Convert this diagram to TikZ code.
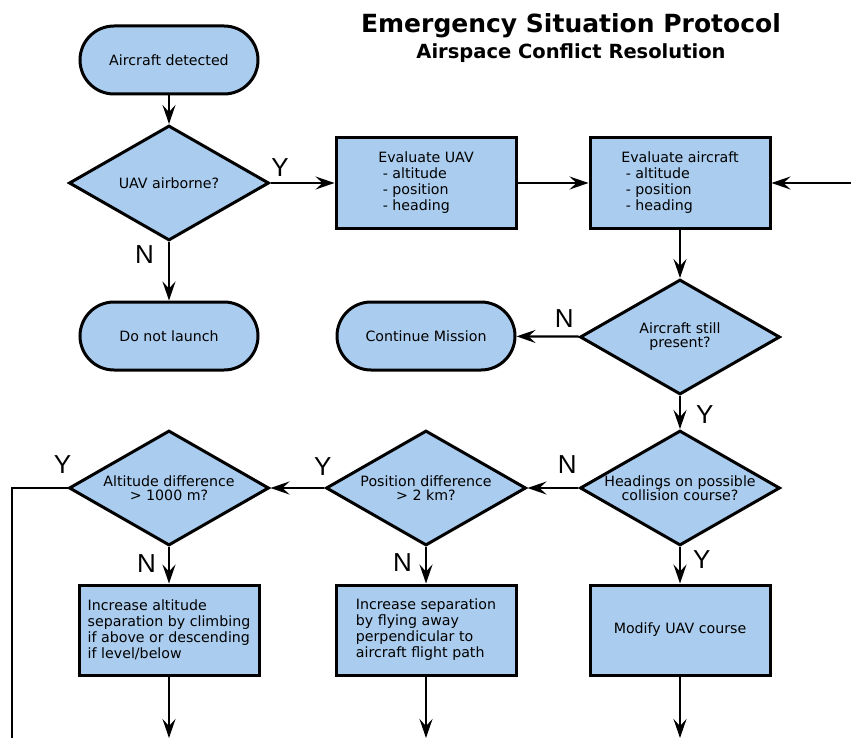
\documentclass[tikz,border=0pt]{standalone}
\usepackage{fontspec}
\setmainfont{DejaVu Sans}
\newfontfamily\ynfont{Liberation Sans}
\usetikzlibrary{shapes.geometric,arrows.meta}
\definecolor{boxblue}{RGB}{170,204,238}

\begin{document}
\begin{tikzpicture}[x=1pt,y=-1pt,
term/.style={
	rectangle,minimum width=178pt,minimum height=68pt,rounded corners=34pt,
	draw=black,line width=3pt,fill=boxblue,
	font=\fontsize{14.2}{16}\selectfont},
proc/.style={
	rectangle,minimum width=180pt,minimum height=90pt,
	draw=black,line width=3pt,fill=boxblue,align=left,
	font=\fontsize{14.2}{16}\selectfont},
dec/.style={
	diamond,aspect=1.73,minimum width=200pt,minimum height=115pt,inner sep=0pt,
	draw=black,line width=3pt,fill=boxblue,align=center,
	font=\fontsize{14.2}{14}\selectfont},
yn/.style={font=\ynfont\fontsize{26}{26}\selectfont,inner sep=1pt},
arr/.style={line width=2.2pt,-{Stealth[length=19pt,width=13pt,inset=7pt]}},
]
\useasboundingbox (0,0) rectangle (851,738);

\node[anchor=base,font=\bfseries\fontsize{25}{25}\selectfont] (title) at (571,33) {Emergency Situation Protocol};
\node[anchor=base,font=\bfseries\fontsize{19.5}{19.5}\selectfont] (subtitle) at (571,59) {Airspace Conflict Resolution};

\node[term] (det) at (169,60) {Aircraft detected};
\node[dec] (air) at (169,183) {UAV airborne?};
\node[proc] (evu) at (426,183) {Evaluate UAV\\\ - altitude\\\ - position\\\ - heading};
\node[proc] (eva) at (680,183) {Evaluate aircraft\\\ - altitude\\\ - position\\\ - heading};
\node[term] (nol) at (169,336) {Do not launch};
\node[term] (cont) at (426,336) {Continue Mission};
\node[dec] (pres) at (680,337) {Aircraft still\\present?};
\node[dec] (head) at (680,488) {Headings on possible\\collision course?};
\node[dec] (posd) at (426,488) {Position difference\\> 2 km?};
\node[dec] (altd) at (169,488) {Altitude difference\\> 1000 m?};
\node[proc] (climb) at (169,630) {Increase altitude\\separation by climbing\\if above or descending\\if level/below};
\node[proc] (perp) at (426,630) {Increase separation\\by flying away\\perpendicular to\\aircraft flight path};
\node[proc] (modc) at (680,630) {Modify UAV course};

\coordinate (back) at (851,183);
\coordinate (lft) at (12,738);
\coordinate (out1) at (169,738);
\coordinate (out2) at (426,738);
\coordinate (out3) at (680,738);

\draw[arr] (det) -- (air);
\draw[arr] (air) -- node[yn,above,pos=0.15,yshift=4pt]{Y} (evu);
\draw[arr] (air) -- node[yn,left,pos=0.21,xshift=-13pt]{N} (nol);
\draw[arr] (evu) -- (eva);
\draw[arr] (back) -- (eva);
\draw[arr] (eva) -- (pres);
\draw[arr] (pres) -- node[yn,above,pos=0.24,yshift=7pt]{N} (cont);
\draw[arr] (pres) -- node[yn,right,pos=0.55,xshift=14pt]{Y} (head);
\draw[arr] (head) -- node[yn,above,pos=0.22,yshift=12pt]{N} (posd);
\draw[arr] (head) -- node[yn,right,pos=0.35,xshift=11pt]{Y} (modc);
\draw[arr] (posd) -- node[yn,above,pos=0.03,yshift=10pt]{Y} (altd);
\draw[arr] (posd) -- node[yn,left,pos=0.43,xshift=-12pt]{N} (perp);
\draw[arr] (altd) -- node[yn,left,pos=0.46,xshift=-11pt]{N} (climb);
\draw[line width=2.2pt] (altd.west) -| node[yn,above,pos=0.045,yshift=12pt]{Y} (lft);
\draw[arr] (climb) -- (out1);
\draw[arr] (perp) -- (out2);
\draw[arr] (modc) -- (out3);
\end{tikzpicture}
\end{document}
